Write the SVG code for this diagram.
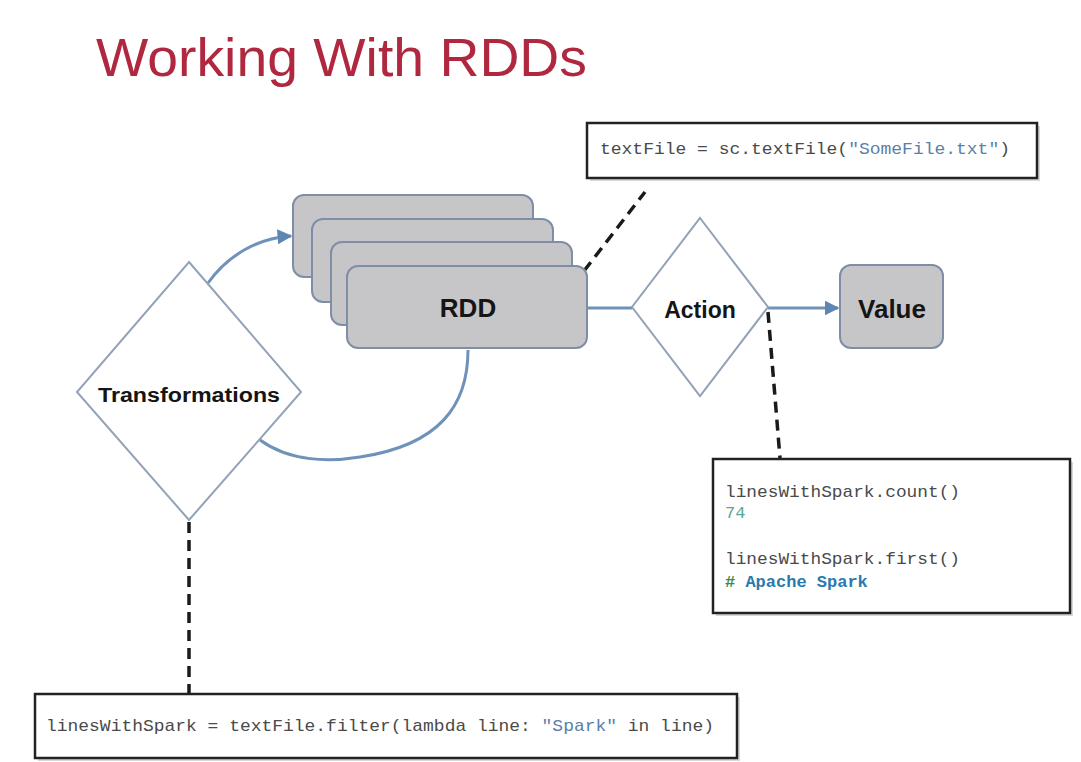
<svg xmlns="http://www.w3.org/2000/svg" width="1081" height="762" viewBox="0 0 1081 762">
<defs>
<marker id="arr" viewBox="0 0 10 10" refX="9" refY="5" markerWidth="5" markerHeight="5" orient="auto">
<path d="M0,0 L10,5 L0,10 z" fill="#5d86b3"/>
</marker>
<style>
.card{fill:#c6c6c8;stroke:#7f8ea6;stroke-width:2}
.diam{fill:#ffffff;stroke:#93a2b6;stroke-width:2}
.conn{fill:none;stroke:#6f92b8;stroke-width:3}
.dash{fill:none;stroke:#1a1a1a;stroke-width:3.5;stroke-dasharray:11 7}
.box{fill:#ffffff;stroke:#222;stroke-width:2.5}
.shadow{fill:#9a9a9a;opacity:0.4}
.lbl{font-family:"Liberation Sans",Arial,sans-serif;font-weight:bold;fill:#151515;text-anchor:middle}
.code{font-family:"Liberation Mono","DejaVu Sans Mono",monospace;font-size:17px;fill:#4a4a4a}
.num{fill:#5aa596}
</style>
</defs>
<rect width="1081" height="762" fill="#ffffff"/>
<text x="96" y="76" font-family="Liberation Sans,Arial,sans-serif" font-size="54" fill="#b0283f" textLength="491" lengthAdjust="spacingAndGlyphs">Working With RDDs</text>

<g id="connectors">
<path class="conn" d="M208,283 C228,255 258,238 291,236" marker-end="url(#arr)"/>
<path class="conn" d="M260,440 C290,462 330,462 360,457 C440,445 468,405 468,350"/>
<line class="conn" x1="587" y1="308" x2="632" y2="308"/>
<line class="conn" x1="768" y1="308" x2="838" y2="308" marker-end="url(#arr)"/>
<line class="dash" x1="584" y1="271" x2="645" y2="192"/>
<line class="dash" x1="768" y1="312" x2="780" y2="458"/>
<line class="dash" x1="189" y1="522" x2="189" y2="694"/>
</g>

<g id="rdd">
<rect class="card" x="293" y="195" width="240" height="82" rx="11"/>
<rect class="card" x="312" y="219" width="241" height="83" rx="11"/>
<rect class="card" x="331" y="242" width="241" height="83" rx="11"/>
<rect class="card" x="347" y="266" width="240" height="82" rx="11"/>
<text class="lbl" x="468" y="317" font-size="26">RDD</text>
</g>

<g id="transformations">
<polygon class="diam" points="189,262 301,392 189,520 77,392"/>
<text class="lbl" x="189" y="402" font-size="20" textLength="182" lengthAdjust="spacingAndGlyphs">Transformations</text>
</g>

<g id="action">
<polygon class="diam" points="700,218 768,307 700,396 632,307"/>
<text class="lbl" x="700" y="318" font-size="23">Action</text>
</g>

<g id="value">
<rect class="card" x="840" y="265" width="103" height="83" rx="11"/>
<text class="lbl" x="892" y="318" font-size="26">Value</text>
</g>

<g id="textfile-note">
<rect class="shadow" x="590" y="126" width="450" height="55"/>
<rect class="box" x="587" y="123" width="450" height="55"/>
<text class="code" x="600" y="154" textLength="410" lengthAdjust="spacingAndGlyphs">textFile = sc.textFile(<tspan fill="#5b7fa8">"SomeFile.txt"</tspan>)</text>
</g>

<g id="action-note">
<rect class="shadow" x="716" y="462" width="357" height="154"/>
<rect class="box" x="713" y="459" width="357" height="154"/>
<text class="code" x="725" y="497" textLength="235" lengthAdjust="spacingAndGlyphs">linesWithSpark.count()</text>
<text class="code num" x="725" y="518">74</text>
<text class="code" x="725" y="564" textLength="235" lengthAdjust="spacingAndGlyphs">linesWithSpark.first()</text>
<text class="code" x="725" y="587" font-weight="bold"><tspan fill="#3b8a4a">#</tspan> <tspan fill="#2b79ad">Apache Spark</tspan></text>
</g>

<g id="filter-note">
<rect class="shadow" x="38" y="697" width="702" height="64"/>
<rect class="box" x="35" y="694" width="702" height="64"/>
<text class="code" x="46" y="731" textLength="668" lengthAdjust="spacingAndGlyphs">linesWithSpark = textFile.filter(lambda line: <tspan fill="#5b7fa8">"Spark"</tspan> in line)</text>
</g>
</svg>
